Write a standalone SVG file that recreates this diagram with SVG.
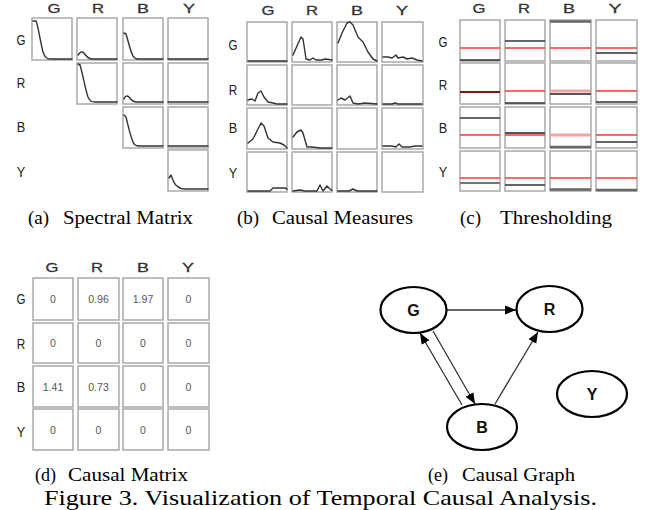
<svg xmlns="http://www.w3.org/2000/svg" width="651" height="510" viewBox="0 0 651 510">
<defs>
<style>
.bx{fill:#fff;stroke:#a9a9a9;stroke-width:1.5}
.cv{fill:none;stroke:#333;stroke-width:1.4;stroke-linejoin:round;stroke-linecap:round}
.hd{font-family:"Liberation Sans",Arial,sans-serif;font-size:13px;fill:#333;text-anchor:middle;stroke:#333;stroke-width:0.3}
.rl{font-family:"Liberation Sans",Arial,sans-serif;font-size:15.5px;fill:#222;text-anchor:middle}
.val{font-family:"Liberation Sans",Arial,sans-serif;font-size:10.5px;fill:#555;text-anchor:middle}
.cap{font-family:"Liberation Serif","Times New Roman",Times,serif;font-size:19px;fill:#000}
.cap2{font-family:"Liberation Serif","Times New Roman",Times,serif;font-size:18px;fill:#000}
.fig{font-family:"Liberation Serif","Times New Roman",Times,serif;font-size:21px;fill:#000}
.red{stroke:#f43a3a;stroke-width:1.6}
.blk{stroke:#333;stroke-width:1.6}
.gry{stroke:#666;stroke-width:2.4}
.nd{fill:#fff;stroke:#000;stroke-width:2.2}
.nl{font-family:"Liberation Sans",Arial,sans-serif;font-size:16px;font-weight:bold;fill:#111;text-anchor:middle}
.ed{fill:none;stroke:#333;stroke-width:1.3}
</style>
<marker id="ah" markerUnits="userSpaceOnUse" markerWidth="12" markerHeight="10" refX="11" refY="4.5" orient="auto">
<path d="M0,0 L11,4.5 L0,9 z" fill="#000"/>
</marker>
</defs>
<rect width="651" height="510" fill="#fff"/>

<!-- (a) Spectral Matrix -->
<g id="panel-a">
<text class="hd" x="54" y="13" textLength="13" lengthAdjust="spacingAndGlyphs">G</text>
<text class="hd" x="98" y="13" textLength="12" lengthAdjust="spacingAndGlyphs">R</text>
<text class="hd" x="143" y="13" textLength="12" lengthAdjust="spacingAndGlyphs">B</text>
<text class="hd" x="189" y="13" textLength="12" lengthAdjust="spacingAndGlyphs">Y</text>
<text class="rl" x="21" y="45" textLength="9" lengthAdjust="spacingAndGlyphs">G</text>
<text class="rl" x="21" y="88" textLength="8.5" lengthAdjust="spacingAndGlyphs">R</text>
<text class="rl" x="21" y="132" textLength="8.5" lengthAdjust="spacingAndGlyphs">B</text>
<text class="rl" x="21" y="177" textLength="8.5" lengthAdjust="spacingAndGlyphs">Y</text>
<rect class="bx" x="32" y="18" width="40" height="42"/>
<rect class="bx" x="77" y="18" width="40" height="42"/>
<rect class="bx" x="123" y="18" width="40" height="42"/>
<rect class="bx" x="168" y="18" width="40" height="42"/>
<rect class="bx" x="77" y="63" width="40" height="41"/>
<rect class="bx" x="123" y="63" width="40" height="41"/>
<rect class="bx" x="168" y="63" width="40" height="41"/>
<rect class="bx" x="123" y="107" width="40" height="41"/>
<rect class="bx" x="168" y="107" width="40" height="41"/>
<rect class="bx" x="168" y="150" width="40" height="41"/>
<path class="cv" d="M33,21 L36,21 C38,25 40,40 43,52 C45,58 47,59 50,59 L72,59"/>
<path class="cv" d="M78,55 C80,52 82,51 84,53 C86,56 88,59 92,59 L117,59"/>
<path class="cv" d="M124,33 L126,34 C128,40 130,50 133,56 C134,58 135,59 138,59 L163,59"/>
<path class="cv" d="M168,59 L208,59"/>
<path class="cv" d="M78,64 L80,65 C83,75 85,88 88,97 C90,101 91,102 95,102 L117,102"/>
<path class="cv" d="M124,99 C125,96 127,95 129,97 C131,100 133,102 137,102 L163,102"/>
<path class="cv" d="M168,102 L208,102"/>
<path class="cv" d="M124,115 L126,117 C128,125 130,135 133,142 C134,145 136,146 139,146 L163,146"/>
<path class="cv" d="M168,146 L208,146"/>
<path class="cv" d="M169,178 L171,175 C173,180 174,184 177,186 C179,188 181,189 185,189 L208,189"/>
<text class="cap" x="28" y="224">(a)</text>
<text class="cap" x="63" y="224" textLength="130" lengthAdjust="spacingAndGlyphs">Spectral Matrix</text>
</g>

<!-- (b) Causal Measures -->
<g id="panel-b">
<text class="hd" x="268" y="15" textLength="13" lengthAdjust="spacingAndGlyphs">G</text>
<text class="hd" x="312" y="15" textLength="12" lengthAdjust="spacingAndGlyphs">R</text>
<text class="hd" x="357" y="15" textLength="12" lengthAdjust="spacingAndGlyphs">B</text>
<text class="hd" x="402" y="15" textLength="12" lengthAdjust="spacingAndGlyphs">Y</text>
<text class="rl" x="233" y="50" textLength="9" lengthAdjust="spacingAndGlyphs">G</text>
<text class="rl" x="233" y="95" textLength="8.5" lengthAdjust="spacingAndGlyphs">R</text>
<text class="rl" x="233" y="133" textLength="8.5" lengthAdjust="spacingAndGlyphs">B</text>
<text class="rl" x="233" y="178" textLength="8.5" lengthAdjust="spacingAndGlyphs">Y</text>
<rect class="bx" x="247" y="22" width="40" height="40"/>
<rect class="bx" x="292" y="22" width="40" height="40"/>
<rect class="bx" x="337" y="22" width="40" height="40"/>
<rect class="bx" x="382" y="22" width="41" height="40"/>
<rect class="bx" x="247" y="65" width="40" height="40"/>
<rect class="bx" x="292" y="65" width="40" height="40"/>
<rect class="bx" x="337" y="65" width="40" height="40"/>
<rect class="bx" x="382" y="65" width="41" height="40"/>
<rect class="bx" x="247" y="108" width="40" height="41"/>
<rect class="bx" x="292" y="108" width="40" height="41"/>
<rect class="bx" x="337" y="108" width="40" height="41"/>
<rect class="bx" x="382" y="108" width="41" height="41"/>
<rect class="bx" x="247" y="152" width="40" height="40"/>
<rect class="bx" x="292" y="152" width="40" height="40"/>
<rect class="bx" x="337" y="152" width="40" height="40"/>
<rect class="bx" x="382" y="152" width="41" height="40"/>
<path class="cv" d="M248,61 L287,61"/>
<path class="cv" d="M293,55 L297,46 L301,37 L303,39 L305,52 L306,59 L310,60 L313,58 L316,60 L322,60 L325,59 L332,60"/>
<path class="cv" d="M338,43 L342,33 L347,23 L350,22 L353,25 L358,37 L363,42 L368,52 L373,59 L377,61"/>
<path class="cv" d="M383,57 L388,57 L392,58 L396,55 L398,58 L403,57 L407,59 L412,58 L417,60 L422,61"/>
<path class="cv" d="M248,100 L252,99 L255,101 L258,93 L261,91 L264,97 L268,102 L273,103 L277,104 L287,104"/>
<path class="cv" d="M338,100 L341,98 L345,100 L350,96 L353,103 L358,104 L365,103 L377,104"/>
<path class="cv" d="M383,104 L392,104 L395,103 L398,104 L410,104 L422,104"/>
<path class="cv" d="M248,143 L253,139 L257,131 L261,123 L264,126 L268,138 L273,142 L280,143 L284,145 L287,148"/>
<path class="cv" d="M293,137 L297,132 L301,130 L303,133 L307,147 L312,147 L320,148 L332,148"/>
<path class="cv" d="M383,146 L392,146 L396,147 L399,144 L402,147 L410,147 L415,146 L422,146"/>
<path class="cv" d="M248,191 L270,191 L273,188 L285,188 L287,189"/>
<path class="cv" d="M293,191 L300,190 L305,191 L317,191 L320,185 L323,191 L327,186 L331,190 L332,190"/>
<path class="cv" d="M338,191 L349,191 L353,189 L357,191 L377,191"/>
<text class="cap" x="237" y="224">(b)</text>
<text class="cap" x="272" y="224" textLength="141" lengthAdjust="spacingAndGlyphs">Causal Measures</text>
</g>

<!-- (c) Thresholding -->
<g id="panel-c">
<text class="hd" x="479" y="13" textLength="13" lengthAdjust="spacingAndGlyphs">G</text>
<text class="hd" x="524" y="13" textLength="12" lengthAdjust="spacingAndGlyphs">R</text>
<text class="hd" x="569" y="13" textLength="12" lengthAdjust="spacingAndGlyphs">B</text>
<text class="hd" x="615" y="13" textLength="13" lengthAdjust="spacingAndGlyphs">Y</text>
<text class="rl" x="443" y="47" textLength="9" lengthAdjust="spacingAndGlyphs">G</text>
<text class="rl" x="443" y="90" textLength="8.5" lengthAdjust="spacingAndGlyphs">R</text>
<text class="rl" x="443" y="133" textLength="8.5" lengthAdjust="spacingAndGlyphs">B</text>
<text class="rl" x="443" y="177" textLength="8.5" lengthAdjust="spacingAndGlyphs">Y</text>
<rect class="bx" x="460" y="20" width="40" height="41"/>
<rect class="bx" x="505" y="20" width="40" height="41"/>
<rect class="bx" x="550" y="20" width="41" height="41"/>
<rect class="bx" x="596" y="20" width="41" height="41"/>
<rect class="bx" x="460" y="63" width="40" height="41"/>
<rect class="bx" x="505" y="63" width="40" height="41"/>
<rect class="bx" x="550" y="63" width="41" height="41"/>
<rect class="bx" x="596" y="63" width="41" height="41"/>
<rect class="bx" x="460" y="107" width="40" height="41"/>
<rect class="bx" x="505" y="107" width="40" height="41"/>
<rect class="bx" x="550" y="107" width="41" height="41"/>
<rect class="bx" x="596" y="107" width="41" height="41"/>
<rect class="bx" x="460" y="151" width="40" height="40"/>
<rect class="bx" x="505" y="151" width="40" height="40"/>
<rect class="bx" x="550" y="151" width="41" height="40"/>
<rect class="bx" x="596" y="151" width="41" height="40"/>
<g fill="none">
<path class="red" d="M460,48 H500 M505,48 H545 M550,48 H591 M596,48 H637"/>
<path class="blk" d="M460,60 H500 M505,41 H545 M596,53 H637"/>
<path class="gry" d="M550,21.5 H591"/>
<path class="red" d="M505,91 H545 M596,91 H637"/>
<path stroke="#f7a0a0" stroke-width="3" d="M550,91 H591"/>
<path stroke="#7a1a1a" stroke-width="1.8" d="M460,92 H500"/>
<path class="blk" d="M505,103 H545 M596,102 H637"/>
<path stroke="#555" stroke-width="2" d="M550,94 H591"/>
<path class="red" d="M460,135 H500 M505,135 H545 M596,135 H637"/>
<path stroke="#f7a0a0" stroke-width="3" d="M550,135 H591"/>
<path class="blk" d="M460,118 H500 M596,142 H637"/>
<path stroke="#555" stroke-width="2" d="M505,133 H545"/>
<path class="gry" d="M550,147 H591"/>
<path class="red" d="M460,178 H500 M505,178 H545 M550,178 H591 M596,178 H637"/>
<path stroke="#777" stroke-width="2" d="M460,183 H500"/>
<path class="blk" d="M505,185 H545"/>
<path class="gry" d="M550,189.5 H591 M596,190 H637"/>
</g>
<text class="cap" x="460" y="224">(c)</text>
<text class="cap" x="500" y="224" textLength="112" lengthAdjust="spacingAndGlyphs">Thresholding</text>
</g>

<!-- (d) Causal Matrix -->
<g id="panel-d">
<text class="hd" x="52" y="272" textLength="13" lengthAdjust="spacingAndGlyphs">G</text>
<text class="hd" x="97" y="272" textLength="12" lengthAdjust="spacingAndGlyphs">R</text>
<text class="hd" x="143" y="272" textLength="12" lengthAdjust="spacingAndGlyphs">B</text>
<text class="hd" x="188" y="272" textLength="12" lengthAdjust="spacingAndGlyphs">Y</text>
<text class="rl" x="21" y="304" textLength="9" lengthAdjust="spacingAndGlyphs">G</text>
<text class="rl" x="21" y="349" textLength="8.5" lengthAdjust="spacingAndGlyphs">R</text>
<text class="rl" x="21" y="392" textLength="8.5" lengthAdjust="spacingAndGlyphs">B</text>
<text class="rl" x="21" y="437" textLength="8.5" lengthAdjust="spacingAndGlyphs">Y</text>
<rect class="bx" x="33" y="278" width="40" height="42"/>
<rect class="bx" x="78" y="278" width="41" height="42"/>
<rect class="bx" x="123" y="278" width="40" height="42"/>
<rect class="bx" x="168" y="278" width="41" height="42"/>
<rect class="bx" x="33" y="323" width="40" height="40"/>
<rect class="bx" x="78" y="323" width="41" height="40"/>
<rect class="bx" x="123" y="323" width="40" height="40"/>
<rect class="bx" x="168" y="323" width="41" height="40"/>
<rect class="bx" x="33" y="366" width="40" height="41"/>
<rect class="bx" x="78" y="366" width="41" height="41"/>
<rect class="bx" x="123" y="366" width="40" height="41"/>
<rect class="bx" x="168" y="366" width="41" height="41"/>
<rect class="bx" x="33" y="409" width="40" height="41"/>
<rect class="bx" x="78" y="409" width="41" height="41"/>
<rect class="bx" x="123" y="409" width="40" height="41"/>
<rect class="bx" x="168" y="409" width="41" height="41"/>
<text class="val" x="53" y="302.5">0</text>
<text class="val" x="98.5" y="302.5">0.96</text>
<text class="val" x="143" y="302.5">1.97</text>
<text class="val" x="188.5" y="302.5">0</text>
<text class="val" x="53" y="346.5">0</text>
<text class="val" x="98.5" y="346.5">0</text>
<text class="val" x="143" y="346.5">0</text>
<text class="val" x="188.5" y="346.5">0</text>
<text class="val" x="53" y="390.5">1.41</text>
<text class="val" x="98.5" y="390.5">0.73</text>
<text class="val" x="143" y="390.5">0</text>
<text class="val" x="188.5" y="390.5">0</text>
<text class="val" x="53" y="433.5">0</text>
<text class="val" x="98.5" y="433.5">0</text>
<text class="val" x="143" y="433.5">0</text>
<text class="val" x="188.5" y="433.5">0</text>
<text class="cap2" x="35" y="481">(d)</text>
<text class="cap2" x="68" y="481" textLength="120" lengthAdjust="spacingAndGlyphs">Causal Matrix</text>
</g>

<!-- (e) Causal Graph -->
<g id="connectors">
<line class="ed" x1="447" y1="310" x2="516" y2="310" marker-end="url(#ah)"/>
<line class="ed" x1="462" y1="405" x2="420" y2="333" marker-end="url(#ah)"/>
<line class="ed" x1="433" y1="331" x2="475" y2="404" marker-end="url(#ah)"/>
<line class="ed" x1="495" y1="404" x2="538" y2="332" marker-end="url(#ah)"/>
</g>
<g id="node-G">
<ellipse class="nd" cx="413.5" cy="310" rx="33" ry="23"/>
<text class="nl" x="413.5" y="316">G</text>
</g>
<g id="node-R">
<ellipse class="nd" cx="549.5" cy="309" rx="33" ry="23"/>
<text class="nl" x="549.5" y="315">R</text>
</g>
<g id="node-B">
<ellipse class="nd" cx="482" cy="427" rx="35" ry="23"/>
<text class="nl" x="482" y="433">B</text>
</g>
<g id="node-Y">
<ellipse class="nd" cx="592" cy="394" rx="35" ry="23"/>
<text class="nl" x="592" y="400">Y</text>
</g>
<g id="caption-e">
<text class="cap2" x="428" y="481">(e)</text>
<text class="cap2" x="462" y="481" textLength="113" lengthAdjust="spacingAndGlyphs">Causal Graph</text>
</g>

<text class="fig" x="44" y="505" textLength="553" lengthAdjust="spacingAndGlyphs">Figure 3. Visualization of Temporal Causal Analysis.</text>
</svg>
